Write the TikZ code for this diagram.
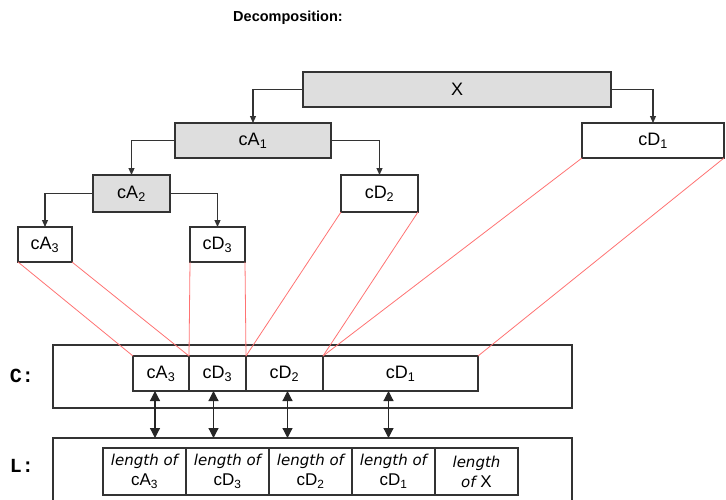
\documentclass[tikz,border=0pt]{standalone}
\usepackage{fontspec}
\setmainfont{Liberation Sans}
\setmonofont{Liberation Mono}
\newfontfamily\lenfont{DejaVu Sans}
\usetikzlibrary{arrows.meta,positioning,calc}

\begin{document}
\begin{tikzpicture}[x=1pt, y=-1pt,
    box/.style={draw=black!80, line width=1.1pt, minimum height=35pt, inner sep=0pt, outer sep=0pt, font=\fontsize{18}{20}\selectfont},
    shaded/.style={box, fill=black!13},
    frame/.style={draw=black!80, line width=1.1pt, minimum width=519pt, inner sep=0pt, outer sep=0pt},
    lencell/.style={draw=black!80, line width=1.1pt, minimum width=83pt, minimum height=47pt, inner sep=0pt, outer sep=0pt, align=center, font=\fontsize{17}{20}\selectfont},
    tree/.style={-{Triangle[width=6pt,length=7pt]}, line width=1.1pt, black!80},
    map/.style={red!55, line width=0.8pt},
    link/.style={{Triangle[width=10pt,length=10pt]}-{Triangle[width=10pt,length=10pt]}, line width=1.2pt, black!85}]
    \path[use as bounding box, clip] (0,0) rectangle (726,499);

    \node[font=\bfseries\fontsize{14.5}{16}\selectfont] (title) at (288,18) {Decomposition:};

    % the tree
    \node[shaded, minimum width=308pt] (X) at (457,89.5) {X};
    \node[shaded, minimum width=156pt] (cA1) at (253,140.5) {cA\textsubscript{1}};
    \node[box, minimum width=142pt] (cD1) at (653,140.5) {cD\textsubscript{1}};
    \node[shaded, minimum width=77pt, minimum height=37pt] (cA2) at (131.5,193.5) {cA\textsubscript{2}};
    \node[box, minimum width=77pt, minimum height=37pt] (cD2) at (379.5,193.5) {cD\textsubscript{2}};
    \node[box, minimum width=54pt] (cA3) at (45,244.5) {cA\textsubscript{3}};
    \node[box, minimum width=55pt] (cD3) at (217.5,244.5) {cD\textsubscript{3}};

    \draw[tree] (X.west) -| (cA1.north);
    \draw[tree] (X.east) -| (cD1.north);
    \draw[tree] (cA1.west) -| (cA2.north);
    \draw[tree] (cA1.east) -| (cD2.north);
    \draw[tree] (cA2.west) -| (cA3.north);
    \draw[tree] (cA2.east) -| (cD3.north);

    % vector C
    \node[font=\ttfamily\bfseries\fontsize{20}{20}\selectfont] (Clab) at (22,376) {C:};
    \node[frame, minimum height=63pt] (Cbox) at (312.5,376.5) {};
    \node[box, minimum width=56pt] (cA3c) at (161,373.5) {cA\textsubscript{3}};
    \node[box, minimum width=57pt, right=0pt of cA3c] (cD3c) {cD\textsubscript{3}};
    \node[box, minimum width=77pt, right=0pt of cD3c] (cD2c) {cD\textsubscript{2}};
    \node[box, minimum width=155pt, right=0pt of cD2c] (cD1c) {cD\textsubscript{1}};

    % vector L
    \node[font=\ttfamily\bfseries\fontsize{20}{20}\selectfont] (Llab) at (22,466) {L:};
    \node[frame, minimum height=82pt] (Lbox) at (312.5,479) {};
    \node[lencell] (lA3) at (144.5,471.5) {{\lenfont\itshape\fontsize{15}{20}\selectfont length of}\\cA\textsubscript{3}};
    \node[lencell, right=0pt of lA3] (lD3) {{\lenfont\itshape\fontsize{15}{20}\selectfont length of}\\cD\textsubscript{3}};
    \node[lencell, right=0pt of lD3] (lD2) {{\lenfont\itshape\fontsize{15}{20}\selectfont length of}\\cD\textsubscript{2}};
    \node[lencell, right=0pt of lD2] (lD1) {{\lenfont\itshape\fontsize{15}{20}\selectfont length of}\\cD\textsubscript{1}};
    \node[lencell, right=0pt of lD1] (lX) {{\lenfont\itshape\fontsize{15}{20}\selectfont length}\\{\lenfont\itshape\fontsize{15}{20}\selectfont of} X};

    % where the coefficients go
    \draw[map] (cA3.south west) -- (cA3c.north west);
    \draw[map] (cA3.south east) -- (cA3c.north east);
    \draw[map] (cD3.south west) -- (cD3c.north west);
    \draw[map] (cD3.south east) -- (cD3c.north east);
    \draw[map] (cD2.south west) -- (cD2c.north west);
    \draw[map] (cD2.south east) -- (cD2c.north east);
    \draw[map] (cD1.south west) -- (cD1c.north west);
    \draw[map] (cD1.south east) -- (cD1c.north east);

    \foreach \c/\dx in {cA3c/-6, cD3c/-4, cD2c/3, cD1c/-12} {
        \coordinate (p) at ($(\c.south)+(\dx,0)$);
        \draw[link] (p) -- (p |- Lbox.north);
    }
\end{tikzpicture}
\end{document}
